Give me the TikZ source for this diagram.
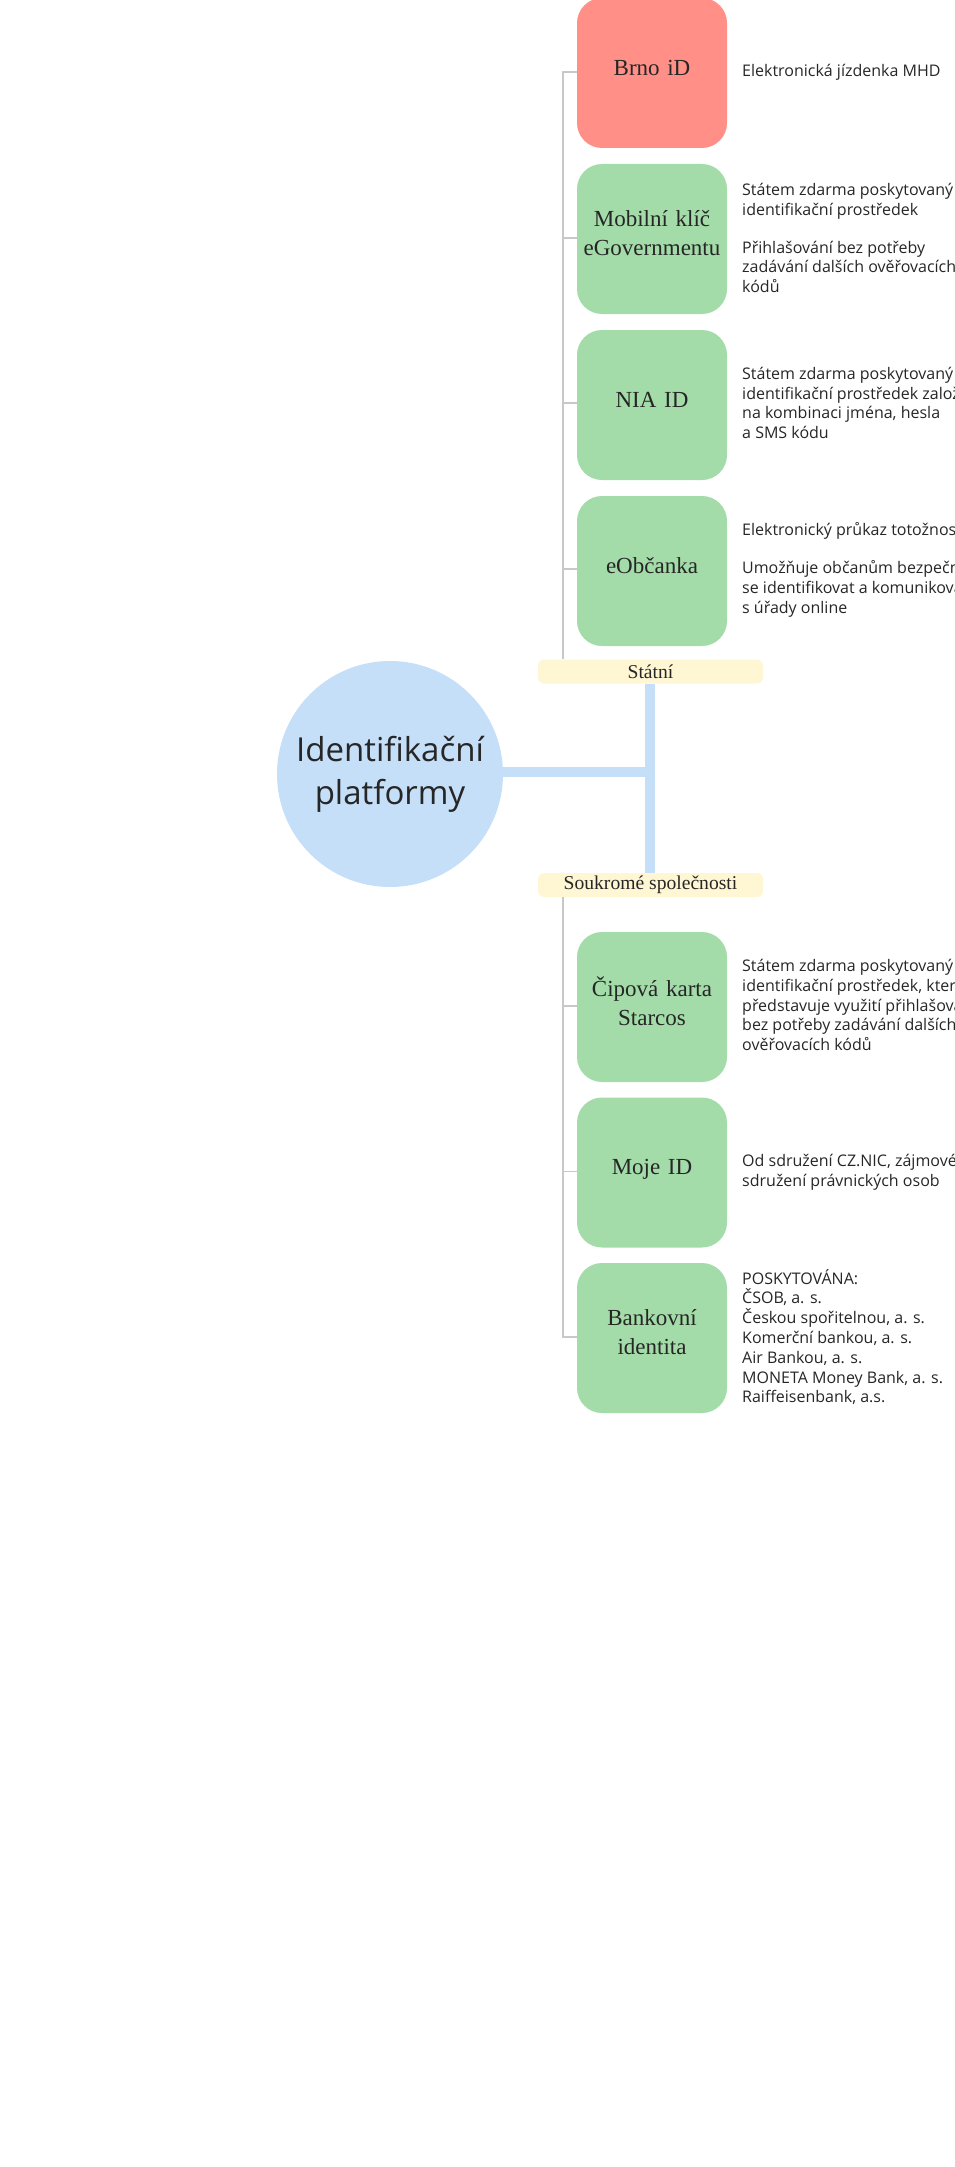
\documentclass[tikz,border=0pt]{standalone}
\usepackage{fontspec}
\setmainfont{Liberation Serif}
\newfontfamily\descfont{Open Sans}
\newfontfamily\rootfont{Open Sans}
\definecolor{txt}{HTML}{262626}
\definecolor{leafgreen}{HTML}{A3DCA8}
\definecolor{leafred}{HTML}{FF8F87}
\definecolor{grpyellow}{HTML}{FFF6D3}
\definecolor{treegray}{HTML}{C8C8C8}
\definecolor{trunkblue}{HTML}{C5DFF8}
\tikzset{
  leaf/.style={rounded corners=25pt, minimum width=150pt, minimum height=150pt,
    text width=146pt, align=center, font=\fontsize{23}{29}\selectfont, text=txt, inner sep=0pt,
    text depth=11pt},
  twoline/.style={text depth=41pt},
  greenleaf/.style={leaf, fill=leafgreen},
  redleaf/.style={leaf, fill=leafred},
  desc/.style={anchor=west, align=left, font=\descfont\fontsize{16}{19.8}\selectfont, text=txt, inner sep=0pt},
  grp/.style={fill=grpyellow, rounded corners=6pt, minimum width=225pt, minimum height=24pt,
    inner sep=0pt, font=\fontsize{19.6}{22}\selectfont, text=txt},
  rootnode/.style={circle, fill=trunkblue, minimum size=226pt, inner sep=0pt, align=center,
    font=\rootfont\fontsize{33}{43}\selectfont, text=txt},
  tree/.style={draw=treegray, line width=1.5pt},
  trunk/.style={draw=trunkblue, line width=10pt}
}
\begin{document}
\begin{tikzpicture}[x=1pt,y=-1pt]
\useasboundingbox (0,0) rectangle (954,2167);
% root and groups
\node[rootnode] (root) at (390,774) {Identifikační\\platformy};
\node[grp] (statni) at (650.5,671.5) {Státní};
\node[grp] (soukr) at (650.5,885) {Soukromé společnosti};
% leaves state
\node[redleaf] (brno) at (652,73) {Brno iD};
\node[greenleaf, twoline] (mobil) at (652,239) {Mobilní klíč\\eGovernmentu};
\node[greenleaf] (nia) at (652,405) {NIA ID};
\node[greenleaf] (eob) at (652,571) {eObčanka};
% leaves private
\node[greenleaf, twoline] (cip) at (652,1007) {Čipová karta\\Starcos};
\node[greenleaf] (moje) at (652,1172.5) {Moje ID};
\node[greenleaf, twoline] (bank) at (652,1338) {Bankovní\\identita};
% descriptions
\node[desc] (dbrno) at (742,72) {Elektronická jízdenka MHD};
\node[desc] (dmobil) at (742,238) {Státem zdarma poskytovaný\\identifikační prostředek\\[18pt]Přihlašování bez potřeby\\zadávání dalších ověřovacích\\kódů};
\node[desc] (dnia) at (742,403) {Státem zdarma poskytovaný\\identifikační prostředek založený\\na kombinaci jména, hesla\\a SMS kódu};
\node[desc] (deob) at (742,570) {Elektronický průkaz totožnosti\\[18pt]Umožňuje občanům bezpečně\\se identifikovat a komunikovat\\s úřady online};
\node[desc] (dcip) at (742,1005) {Státem zdarma poskytovaný\\identifikační prostředek, který\\představuje využití přihlašování\\bez potřeby zadávání dalších\\ověřovacích kódů};
\node[desc] (dmoje) at (742,1172) {Od sdružení CZ.NIC, zájmového\\sdružení právnických osob};
\node[desc] (dbank) at (742,1337) {POSKYTOVÁNA:\\ČSOB, a. s.\\Českou spořitelnou, a. s.\\Komerční bankou, a. s.\\Air Bankou, a. s.\\MONETA Money Bank, a. s.\\Raiffeisenbank, a.s.};
% thick blue trunk
\coordinate (bx) at (650,772);
\draw[trunk] (root.east |- bx) -- (bx);
\draw[trunk] (statni.south -| bx) -- (soukr.north -| bx);
% gray tree, state
\coordinate (g1) at (563,72);
\draw[tree] (brno.west |- g1) -- (g1) -- (g1 |- statni.north);
\draw[tree] (mobil.west) ++(0,-1) -- ++(-14,0);
\draw[tree] (nia.west) ++(0,-2) -- ++(-14,0);
\draw[tree] (eob.west) ++(0,-2) -- ++(-14,0);
% gray tree, private
\coordinate (g2) at (563,1337);
\draw[tree] (soukr.south -| g2) -- (g2) -- (bank.west |- g2);
\draw[tree] (cip.west) ++(0,-1) -- ++(-14,0);
\draw[tree] (moje.west) ++(0,-1) -- ++(-14,0);
\end{tikzpicture}
\end{document}
